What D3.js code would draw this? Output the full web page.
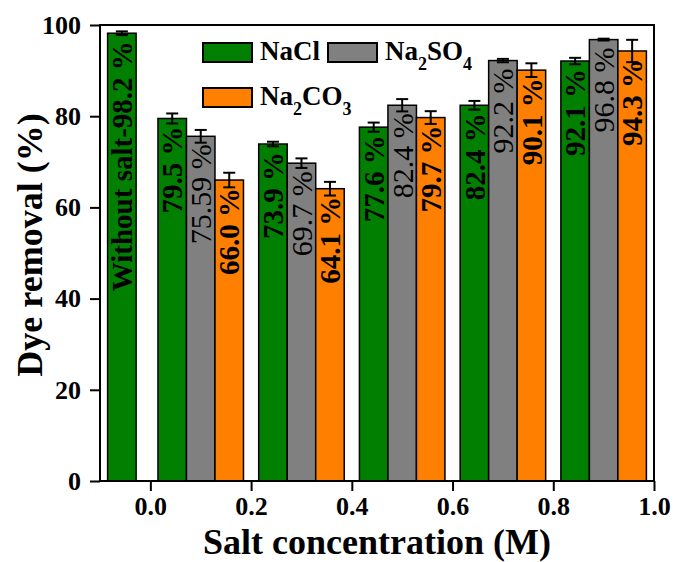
<!DOCTYPE html>
<html>
<head>
<meta charset="utf-8">
<script src="https://cdn.jsdelivr.net/npm/d3@7"></script>
<style>
  html, body { margin: 0; padding: 0; background: #fff; }
  svg { display: block; }
  text { font-family: "Liberation Serif", "Times New Roman", serif; }
</style>
</head>
<body>
<svg id="chart" width="675" height="562"></svg>
<script>
// Salt concentration of each bar group (M)
const concentrations = [0, 0.1, 0.3, 0.5, 0.7, 0.9];

// Dye removal (%) for each salt; the 0 M group has only the salt-free run
const naclValues   = [98.2, 79.5, 73.9, 77.6, 82.4, 92.1];
const na2so4Values = [null, 75.59, 69.7, 82.4, 92.2, 96.8];
const na2co3Values = [null, 66.0, 64.1, 79.7, 90.1, 94.3];

// Standard deviations (%)
const naclErrors   = [0.4, 1.1, 0.5, 1.0, 0.95, 0.7];
const na2so4Errors = [null, 1.4, 1.05, 1.35, 0.37, 0.2];
const na2co3Errors = [null, 1.6, 1.5, 1.4, 1.5, 2.45];

const xTicks = [0.0, 0.2, 0.4, 0.6, 0.8, 1.0];
const yTicks = [0, 20, 40, 60, 80, 100];

const seriesNames = ["NaCl", "Na2SO4", "Na2CO3"];
const seriesColors = ["#007f00", "#808080", "#ff8000"];

const svg = d3.select("#chart");

const plotLeft = 100, plotRight = 654, plotTop = 25, plotBottom = 481;
const x = d3.scaleLinear().domain([-0.1, 1.0]).range([plotLeft, plotRight]);
const y = d3.scaleLinear().domain([0, 100]).range([plotBottom, plotTop]);

const barW = 0.0566; // bar width in axis units

const series = [
  { name: "NaCl", values: naclValues, errors: naclErrors, color: seriesColors[0], offset: -1, bold: true },
  { name: "Na2SO4", values: na2so4Values, errors: na2so4Errors, color: seriesColors[1], offset: 0, bold: false },
  { name: "Na2CO3", values: na2co3Values, errors: na2co3Errors, color: seriesColors[2], offset: 1, bold: true }
];

function fmt(v) {
  const t = v * 10;
  return (Math.abs(t - Math.round(t)) < 1e-9 ? v.toFixed(1) : String(v)) + " %";
}

const bars = [];
series.forEach(s => {
  s.values.forEach((v, i) => {
    if (v == null) return;
    const c = concentrations[i] + s.offset * barW;
    bars.push({
      x0: c - barW / 2, x1: c + barW / 2, c: c, v: v, e: s.errors[i],
      color: s.color, bold: s.bold,
      label: (i === 0 ? "Without salt-" : "") + fmt(v)
    });
  });
});

// bars
svg.append("g").selectAll("rect").data(bars).join("rect")
  .attr("x", d => x(d.x0))
  .attr("y", d => y(d.v))
  .attr("width", d => x(d.x1) - x(d.x0))
  .attr("height", d => y(0) - y(d.v))
  .attr("fill", d => d.color)
  .attr("stroke", "#000")
  .attr("stroke-width", 1.5);

// error bars
const eg = svg.append("g").attr("stroke", "#000").attr("stroke-width", 2);
bars.forEach(d => {
  const cx = x(d.c);
  eg.append("line").attr("x1", cx).attr("x2", cx).attr("y1", y(d.v + d.e)).attr("y2", y(d.v - d.e));
  eg.append("line").attr("x1", cx - 6).attr("x2", cx + 6).attr("y1", y(d.v + d.e)).attr("y2", y(d.v + d.e));
  eg.append("line").attr("x1", cx - 6).attr("x2", cx + 6).attr("y1", y(d.v - d.e)).attr("y2", y(d.v - d.e));
});

// value labels, rotated inside each bar
svg.append("g").selectAll("text").data(bars).join("text")
  .attr("transform", d => `translate(${x(d.c)},${y(d.v) + 8}) rotate(-90)`)
  .attr("text-anchor", "end")
  .attr("dy", "0.35em")
  .attr("font-size", d => d.bold ? 29 : 30)
  .attr("font-weight", d => d.bold ? "bold" : "normal")
  .attr("fill", "#000")
  .text(d => d.label);

// frame
svg.append("rect")
  .attr("x", plotLeft).attr("y", plotTop)
  .attr("width", plotRight - plotLeft).attr("height", plotBottom - plotTop)
  .attr("fill", "none").attr("stroke", "#000").attr("stroke-width", 2);

// x axis
const xAxis = svg.append("g")
  .attr("transform", `translate(0,${plotBottom})`)
  .call(d3.axisBottom(x).tickValues(xTicks).tickFormat(d3.format(".1f")).tickSize(10).tickSizeOuter(0));
xAxis.select(".domain").remove();
xAxis.selectAll("line").attr("stroke-width", 2);
xAxis.selectAll("text")
  .attr("font-family", "Liberation Serif, serif")
  .attr("font-size", 26).attr("font-weight", "bold").attr("fill", "#000")
  .attr("y", 16).attr("dy", "0.71em");

// y axis
const yAxis = svg.append("g")
  .attr("transform", `translate(${plotLeft},0)`)
  .call(d3.axisLeft(y).tickValues(yTicks).tickSize(10).tickSizeOuter(0));
yAxis.select(".domain").remove();
yAxis.selectAll("line").attr("stroke-width", 2);
yAxis.selectAll("text")
  .attr("font-family", "Liberation Serif, serif")
  .attr("font-size", 26).attr("font-weight", "bold").attr("fill", "#000")
  .attr("x", -19);

// axis titles
svg.append("text")
  .attr("x", (plotLeft + plotRight) / 2).attr("y", 554)
  .attr("text-anchor", "middle")
  .attr("font-size", 36).attr("font-weight", "bold")
  .text("Salt concentration (M)");

svg.append("text")
  .attr("transform", `translate(42,245) rotate(-90)`)
  .attr("text-anchor", "middle")
  .attr("font-size", 36).attr("font-weight", "bold")
  .text("Dye removal (%)");

// legend
const legendItems = [
  { name: seriesNames[0], color: seriesColors[0], sx: 203, sy: 43 },
  { name: seriesNames[1], color: seriesColors[1], sx: 328, sy: 43 },
  { name: seriesNames[2], color: seriesColors[2], sx: 203, sy: 88 }
];
const lg = svg.append("g");
legendItems.forEach(it => {
  lg.append("rect")
    .attr("x", it.sx).attr("y", it.sy).attr("width", 49).attr("height", 19)
    .attr("fill", it.color).attr("stroke", "#000").attr("stroke-width", 2);
  const t = lg.append("text")
    .attr("x", it.sx + 57).attr("y", it.sy + 17)
    .attr("font-size", 27).attr("font-weight", "bold");
  // split chemical formula into text and subscript digits
  const parts = it.name.match(/[A-Za-z]+|\d+/g);
  let sub = false;
  parts.forEach(p => {
    const isDigit = /\d/.test(p);
    const ts = t.append("tspan").text(p);
    if (isDigit && !sub) { ts.attr("font-size", 18).attr("dy", 10); sub = true; }
    else if (!isDigit && sub) { ts.attr("dy", -10); sub = false; }
  });
});
</script>
</body>
</html>
